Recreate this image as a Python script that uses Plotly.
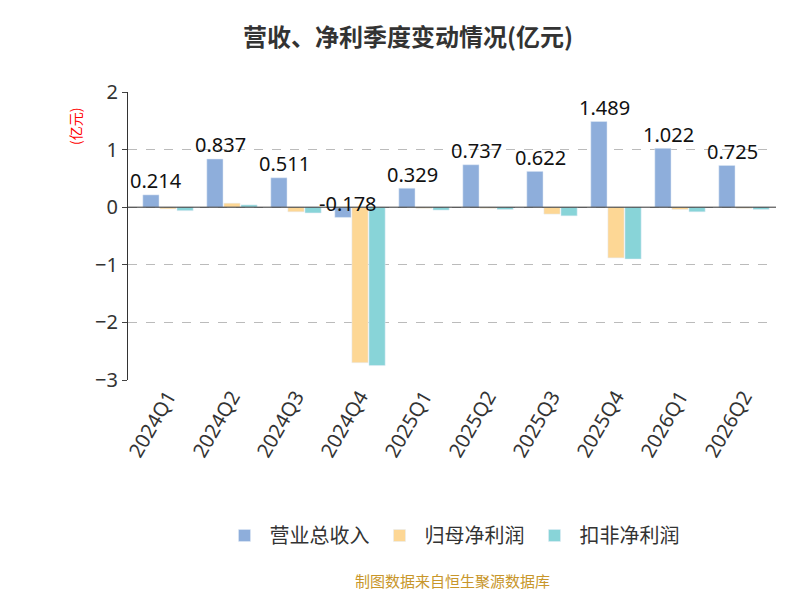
import plotly.graph_objects as go

quarters = ["2024Q1","2024Q2","2024Q3","2024Q4","2025Q1","2025Q2","2025Q3","2025Q4","2026Q1","2026Q2"]
revenue = [0.214,0.837,0.511,-0.178,0.329,0.737,0.622,1.489,1.022,0.725]
net_profit = [-0.03,0.07,-0.08,-2.70,-0.02,-0.02,-0.12,-0.88,-0.04,-0.02]
net_profit_ex = [-0.06,0.04,-0.10,-2.75,-0.05,-0.04,-0.15,-0.90,-0.08,-0.04]

fig = go.Figure()
fig.add_bar(x=quarters, y=revenue, name="营业总收入", marker_color="#8eaedb")
fig.add_bar(x=quarters, y=net_profit, name="归母净利润", marker_color="#fdd795")
fig.add_bar(x=quarters, y=net_profit_ex, name="扣非净利润", marker_color="#88d4d8")

for q, v in zip(quarters, revenue):
    fig.add_annotation(x=q, y=v, text=f"{v:.3f}", showarrow=False, yshift=14, xshift=-12,
                       font=dict(size=20, color="#111", family="Noto Sans"))

fig.update_layout(
    width=800, height=600, barmode="group", bargap=0.2, bargroupgap=0.05,
    plot_bgcolor="white", paper_bgcolor="white",
    font=dict(family="Noto Sans CJK SC", color="#333"),
    title=dict(text="<b>营收、净利季度变动情况(亿元)</b>", x=0.5, y=0.965, xanchor="center",
               font=dict(size=24, color="#333")),
    margin=dict(l=120, r=32, t=84, b=228),
    legend=dict(orientation="h", x=0.5, xanchor="center", y=-0.54, yanchor="middle",
                font=dict(size=20, color="#333"), itemwidth=40),
)
fig.update_yaxes(range=[-3, 2], dtick=1, showgrid=True, gridcolor="#bbb", griddash="dash",
                 zeroline=False, showline=True, linecolor="#333", ticks="outside",
                 tickfont=dict(size=20, color="#333", family="Noto Sans"))
fig.update_xaxes(showline=False, ticks="", tickangle=-60,
                 tickfont=dict(size=20, color="#333", family="Noto Sans"))
fig.add_shape(type="line", xref="paper", x0=0, x1=1, yref="y", y0=0, y1=0,
              line=dict(color="#333", width=1))
fig.add_annotation(text="(亿元)", xref="paper", yref="paper", x=-0.1, y=0.95,
                   textangle=-90, showarrow=False, font=dict(size=14, color="red"))
fig.add_annotation(text="制图数据来自恒生聚源数据库", xref="paper", yref="paper",
                   x=0.5, y=-0.74, showarrow=False, font=dict(size=15, color="#c8962a"))
fig.write_html("out.html")
